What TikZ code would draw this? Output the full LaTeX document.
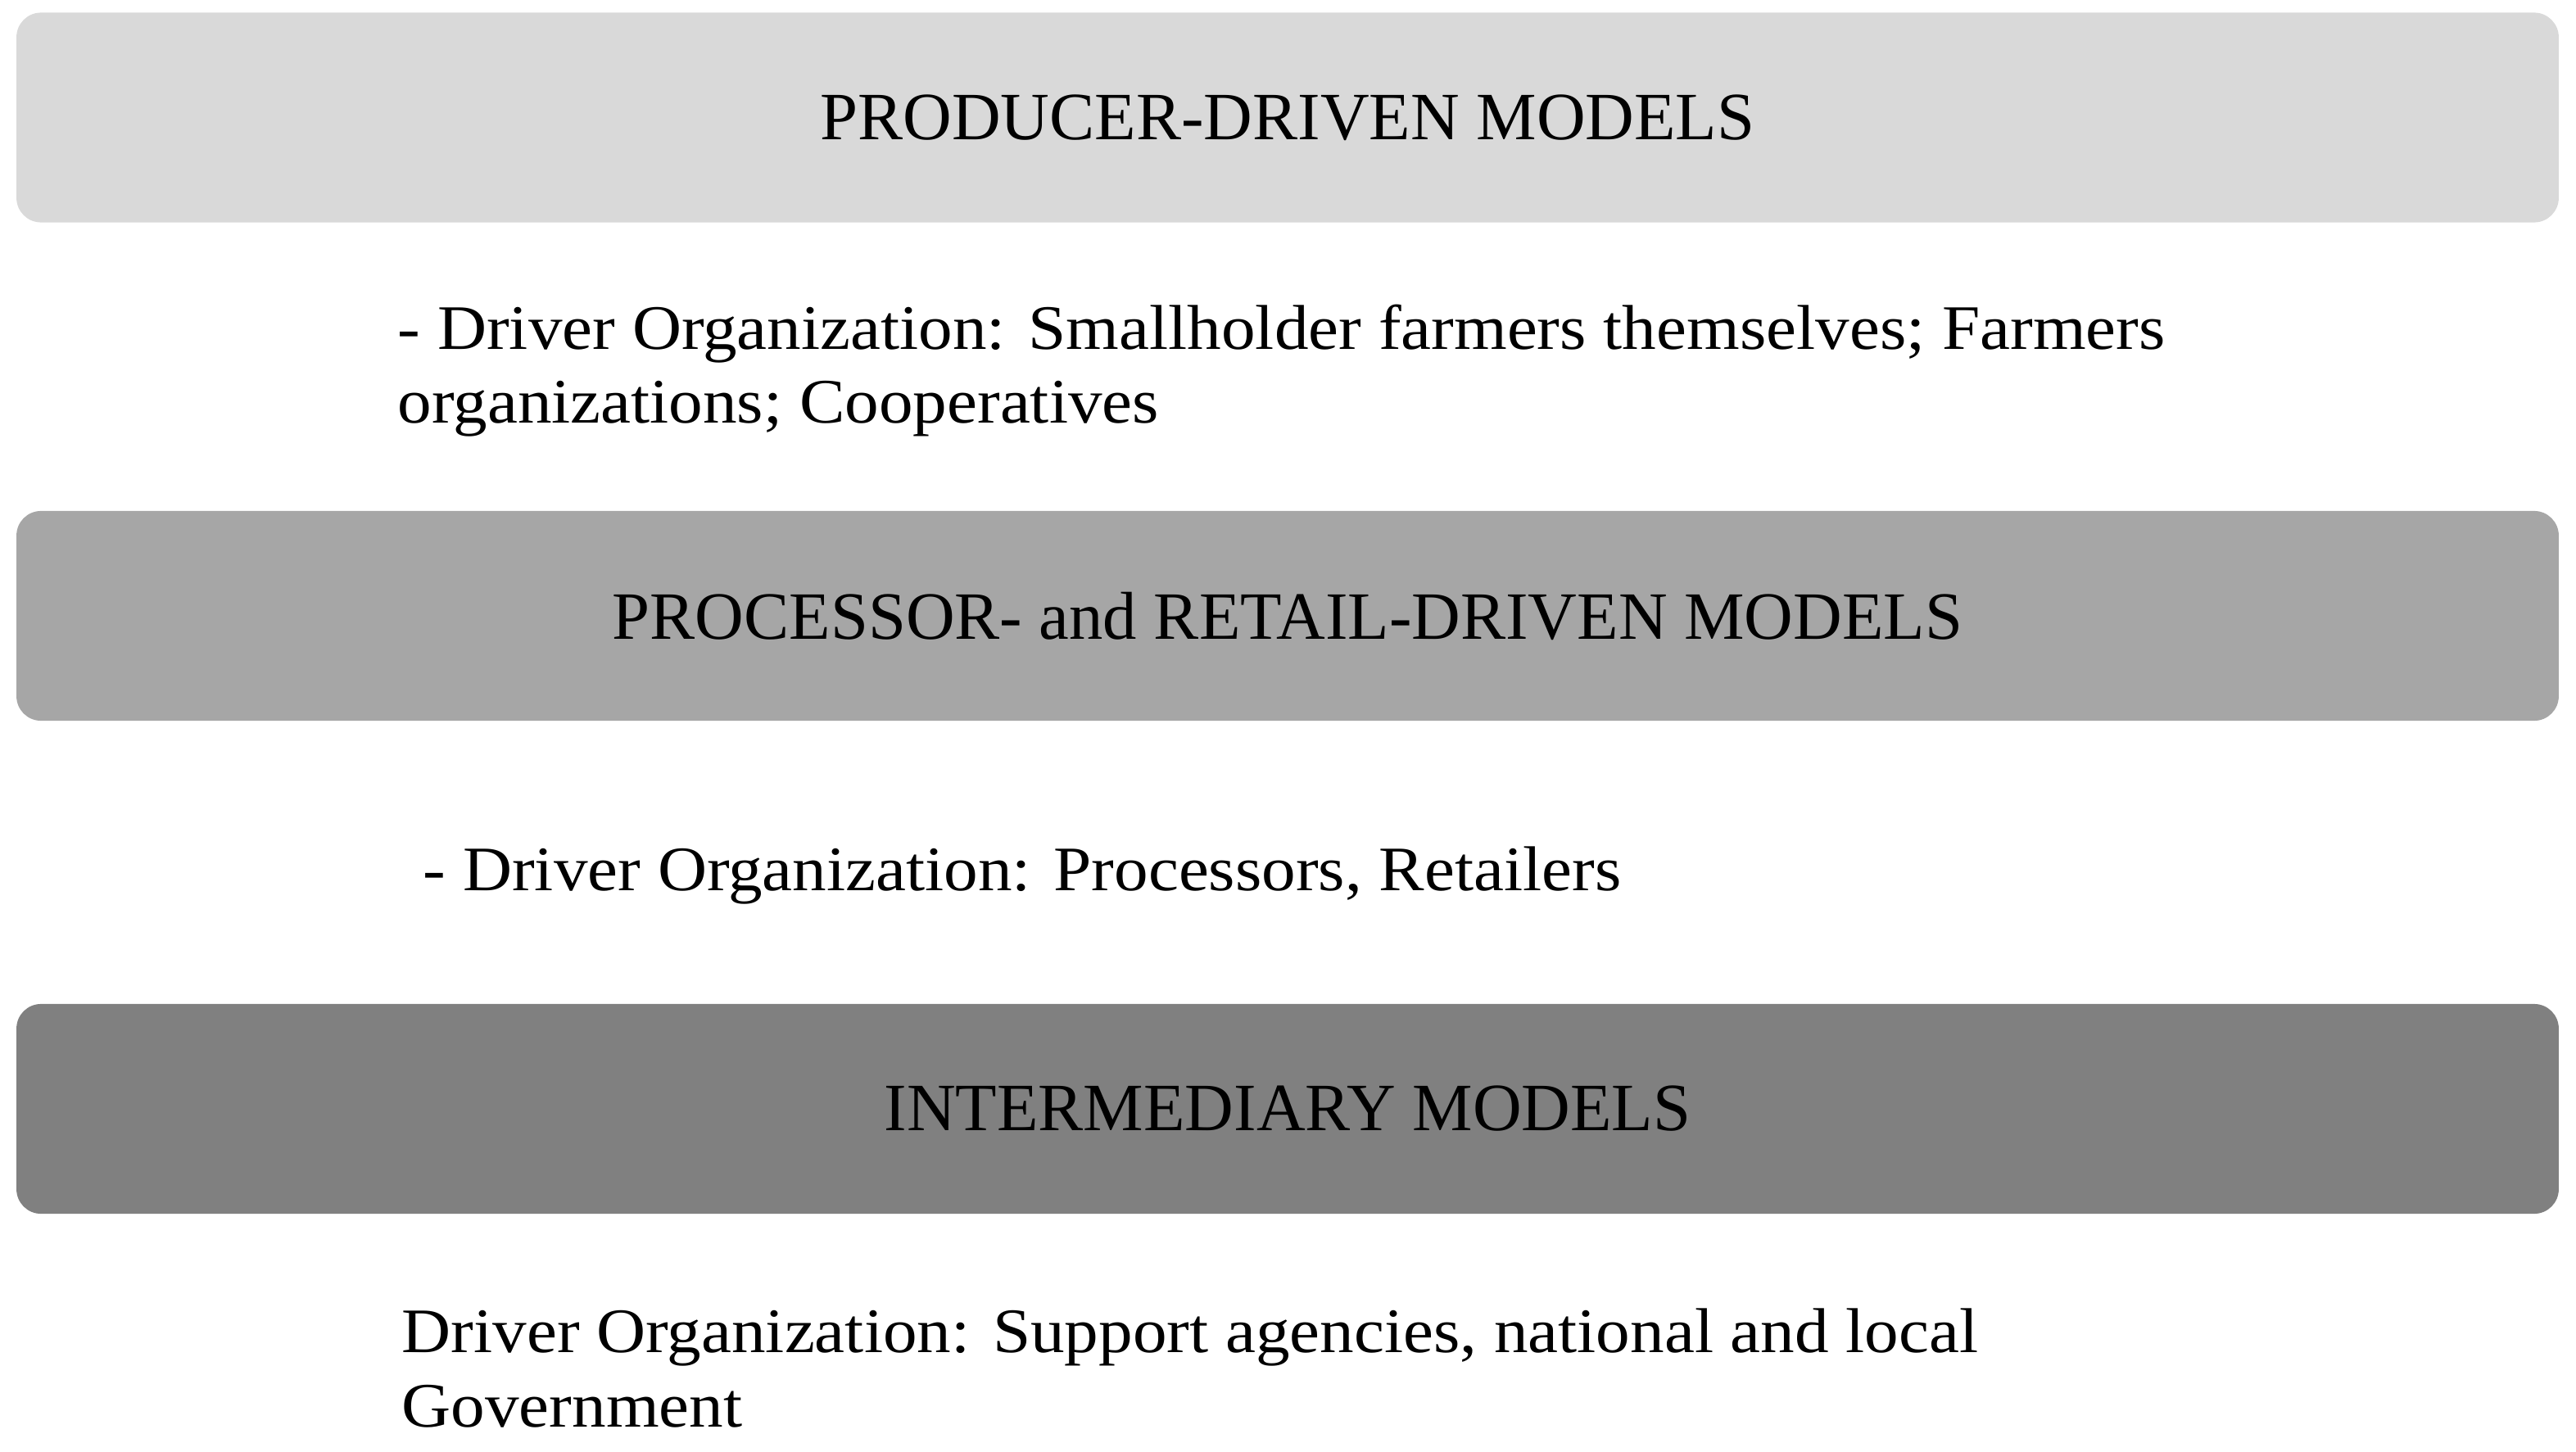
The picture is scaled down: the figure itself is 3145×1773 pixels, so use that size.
\documentclass[tikz,border=0pt]{standalone}
\usepackage{fontspec}
\setmainfont{Liberation Serif}
\newfontfamily\driverfont{Liberation Serif}[FakeStretch=1.075]
\usetikzlibrary{positioning}

\definecolor{lightband}{HTML}{D9D9D9}
\definecolor{midband}{HTML}{A6A6A6}
\definecolor{darkband}{HTML}{808080}

\begin{document}
\begin{tikzpicture}[x=0.01cm,y=-0.01cm,
  band/.style={rounded corners=0.3cm, minimum width=31.02cm, minimum height=2.56cm,
    inner sep=0pt, font=\fontsize{23.5}{28}\selectfont},
  drivertext/.style={anchor=base west, align=left, inner sep=0pt,
    font=\driverfont\fontsize{22}{25.6}\selectfont}]
\useasboundingbox (0,0) rectangle (3145,1773);
% the three model bands
\node[band,fill=lightband] (producer) at (1572,143.5) {PRODUCER-DRIVEN MODELS};
\node[band,fill=midband] (processor) at (1572,752) {PROCESSOR- and RETAIL-DRIVEN MODELS};
\node[band,fill=darkband] (intermediary) at (1572,1354) {INTERMEDIARY MODELS};
% driver organizations (base = last line)
\node[drivertext] (producerdriver) at (485,517) {- Driver Organization: Smallholder farmers themselves; Farmers\\organizations; Cooperatives};
\node[drivertext] (processordriver) at (516,1087) {- Driver Organization: Processors, Retailers};
\node[drivertext] (intermediarydriver) at (490,1742) {Driver Organization: Support agencies, national and local\\Government};
\end{tikzpicture}
\end{document}
